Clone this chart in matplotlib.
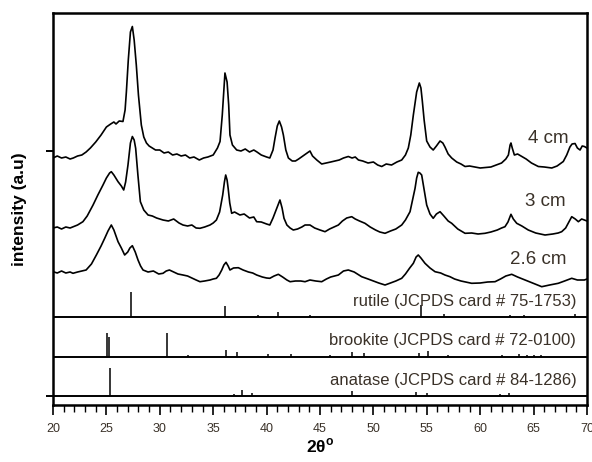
import matplotlib
matplotlib.use("Agg")
import matplotlib.pyplot as plt
from matplotlib.ticker import MultipleLocator

plt.rcParams['font.family'] = ['Liberation Sans', 'DejaVu Sans']

# --- XRD patterns (2theta, intensity a.u.) ---
x_4cm = [20.0, 20.4, 20.8, 21.2, 21.6, 21.9, 22.3, 22.7, 23.1, 23.5, 24.0, 24.5, 25.0, 25.4, 25.7,
         25.9, 26.2, 26.55, 26.75, 26.87, 27.05, 27.25, 27.43, 27.6, 27.8, 28.0, 28.27, 28.5, 28.75,
         29.0, 29.3, 29.6, 30.0, 30.4, 30.8, 31.2, 31.6, 32.0, 32.4, 32.8, 33.2, 33.7, 34.1, 34.5,
         35.0, 35.4, 35.64, 35.85, 35.95, 36.1, 36.3, 36.45, 36.57, 36.8, 37.2, 37.6, 38.0, 38.4,
         38.8, 39.1, 39.5, 40.0, 40.3, 40.6, 40.79, 41.0, 41.19, 41.4, 41.57, 41.8, 42.04, 42.4,
         42.7, 43.0, 43.4, 43.8, 44.06, 44.3, 44.7, 45.16, 45.6, 46.0, 46.4, 46.8, 47.2, 47.65,
         48.0, 48.3, 48.6, 49.0, 49.5, 50.0, 50.4, 50.78, 51.2, 51.7, 52.2, 52.65, 53.0, 53.27,
         53.5, 53.74, 54.05, 54.3, 54.45, 54.58, 54.75, 54.99, 55.3, 55.6, 55.9, 56.24, 56.5, 56.7,
         57.0, 57.33, 57.8, 58.2, 58.58, 59.0, 59.5, 60.0, 60.45, 61.0, 61.5, 62.0, 62.4, 62.64,
         62.8, 62.88, 63.0, 63.2, 63.5, 63.9, 64.3, 64.8, 65.44, 66.0, 66.7, 67.2, 67.78, 68.1,
         68.4, 68.6, 68.88, 69.1, 69.35, 69.55, 69.75, 70.0]
y_4cm = [17, 19, 17, 18, 16, 17, 19, 20, 23, 27, 33, 40, 48, 51, 53,
         51, 54, 53.5, 65, 83, 115, 143, 148.5, 135, 110, 80, 50, 38, 32,
         29, 27, 25, 25, 22, 23, 20, 21, 19, 20, 17, 18, 15, 17, 18,
         20, 27, 33.5, 60, 77, 102, 93, 70, 40, 30, 25, 24, 26, 23,
         25, 23, 20, 18, 17, 25, 37, 49, 54, 48, 40, 25, 17, 14,
         14, 16, 19, 22, 24, 19, 15, 11, 12, 13, 14, 15, 17, 18.5,
         17, 18, 15, 14, 12, 13, 10, 8.5, 11, 10, 13, 15, 20, 27,
         40, 60, 83, 92, 87, 74, 55, 34, 28, 25, 29, 34, 32, 28,
         21, 17, 13, 11, 8.5, 9, 8, 7, 7.5, 8, 10, 12, 16, 20,
         30, 32, 27, 20, 21, 18.5, 16, 12, 8.5, 8, 7, 9, 13.5, 20,
         28, 31, 31.5, 27, 25, 29, 28.5, 27]

x_3cm = [20.0, 20.4, 20.8, 21.2, 21.6, 21.9, 22.3, 22.8, 23.2, 23.75, 24.2, 24.68, 25.0, 25.3,
         25.46, 25.7, 26.09, 26.4, 26.62, 26.8, 27.02, 27.25, 27.43, 27.6, 27.74, 27.95, 28.18,
         28.5, 28.9, 29.3, 29.7, 30.3, 30.8, 31.3, 31.8, 32.17, 32.6, 33.0, 33.4, 33.76, 34.2,
         34.7, 35.0, 35.3, 35.6, 35.89, 36.05, 36.17, 36.3, 36.4, 36.55, 36.73, 37.0, 37.5, 37.9,
         38.4, 38.8, 39.07, 39.5, 40.0, 40.3, 40.6, 40.95, 41.25, 41.45, 41.63, 41.9, 42.2, 42.5,
         42.9, 43.3, 43.6, 44.06, 44.5, 45.0, 45.47, 45.9, 46.3, 46.72, 47.1, 47.5, 47.97, 48.3,
         48.7, 49.21, 49.7, 50.2, 50.6, 51.09, 51.6, 52.1, 52.65, 53.0, 53.43, 53.7, 53.9, 54.05,
         54.2, 54.35, 54.52, 54.75, 54.99, 55.3, 55.6, 55.9, 56.24, 56.6, 57.0, 57.33, 57.9, 58.58,
         59.2, 59.8, 60.45, 61.0, 61.6, 62.0, 62.32, 62.6, 62.88, 63.1, 63.42, 63.9, 64.5, 65.2,
         66.07, 66.8, 67.3, 67.63, 68.0, 68.3, 68.57, 68.9, 69.19, 69.5, 69.75, 70.0]
y_3cm = [12, 13, 11, 13, 12, 13.3, 15, 18.3, 24, 35, 45, 55, 62, 67,
         68.3, 65, 58.3, 54, 50, 58, 75, 97, 103.5, 100, 91.7, 65, 38.3,
         30, 25, 24, 22, 20, 19, 21, 17, 15, 14, 15, 12, 11.7, 13,
         15, 17, 20, 28, 45, 58, 65, 60, 51.7, 37, 26.7, 28, 25, 26,
         22, 23, 18.3, 18, 16, 15, 22, 31.7, 40, 32, 21.7, 15, 12, 10,
         11, 13, 15, 15, 12, 10, 8.3, 11, 13, 15, 19, 22, 23.3, 21,
         19, 16.7, 13, 10, 8, 6.7, 9, 11, 15, 20, 28.3, 42, 51.7, 62,
         67.7, 67, 65, 50, 35, 26, 21.7, 26, 28.3, 24, 19, 16.7, 11, 6.7,
         7, 6, 6.7, 8, 10, 12, 13.3, 18, 25.7, 21, 16.7, 14, 10, 7,
         5, 6, 7, 8.3, 12, 18, 23.3, 21, 18.3, 21, 20, 19]

x_26cm = [20.0, 20.4, 20.8, 21.2, 21.6, 21.87, 22.3, 22.7, 23.1, 23.6, 24.06, 24.5, 24.84, 25.15,
          25.46, 25.7, 26.09, 26.4, 26.71, 27.0, 27.2, 27.43, 27.7, 27.96, 28.2, 28.43, 28.9, 29.4,
          29.9, 30.3, 30.6, 30.9, 31.3, 31.7, 32.17, 32.6, 33.0, 33.4, 33.76, 34.2, 34.7, 35.0,
          35.3, 35.55, 35.8, 36.0, 36.2, 36.4, 36.57, 36.9, 37.35, 37.8, 38.3, 38.7, 39.07, 39.6,
          40.0, 40.3, 40.7, 41.1, 41.5, 41.9, 42.2, 42.7, 43.2, 43.6, 44.06, 44.6, 45.16, 45.6,
          46.0, 46.72, 47.2, 47.65, 48.2, 48.9, 49.5, 50.0, 50.5, 51.09, 51.6, 52.1, 52.65, 53.0,
          53.4, 53.74, 54.0, 54.2, 54.45, 54.83, 55.3, 55.77, 56.3, 56.7, 57.17, 57.6, 58.2, 59.2,
          60.0, 60.7, 61.39, 61.9, 62.4, 62.95, 63.5, 64.2, 64.9, 65.76, 66.5, 67.31, 67.9, 68.57,
          69.1, 69.75, 70.0]
y_26cm = [18.3, 17, 19, 17, 18, 16.7, 18, 19, 20, 26, 35, 44, 51.7, 59,
          65, 60, 48.3, 42, 35, 38, 42, 44.3, 38, 30, 24, 20, 18, 19,
          16, 16.7, 19, 20, 18, 16, 15, 14, 12, 10, 8.3, 9, 10, 11,
          11.7, 15, 20, 25, 27.7, 24, 20, 22, 22.3, 20, 18, 17, 15, 13,
          12, 11.7, 14, 15.7, 13, 10, 8.3, 9, 9, 8.3, 10, 9, 8.3, 11,
          13, 15, 19, 20, 18, 13.3, 11, 9, 7, 5, 7, 9, 11.7, 16,
          22, 26.7, 33, 35, 32, 26.7, 22, 18.3, 17, 15, 13.3, 11, 9, 6.7,
          7, 8, 8.3, 11, 14, 15.7, 13, 10, 7, 3.3, 5, 6.7, 9, 11.7,
          10, 10, 11]

spectra_x = [x_4cm, x_3cm, x_26cm]
spectra_y = [y_4cm, y_3cm, y_26cm]
spectra_offset = [230, 165, 115]
spectra_label = ['4 cm', '3 cm', '2.6 cm']
label_pos = [(68.3, 267), (68.0, 203), (68.1, 145)]

# --- reference stick patterns (2theta, height a.u.) ---
rutile_pos = [27.33, 36.1, 39.2, 41.1, 44.1, 54.45, 56.6, 62.8, 64.1, 68.9]
rutile_h = [25, 11, 2, 5.5, 2, 12, 3, 2, 2, 3]
brookite_pos = [25.06, 25.2, 30.7, 32.6, 36.2, 37.2, 40.1, 42.3, 45.9, 47.97, 49.15,
                54.3, 55.1, 57.0, 62.0, 63.6, 64.4, 65.0, 65.7]
brookite_h = [24, 20, 24, 2, 6.5, 5, 3, 3, 2, 5, 4, 4, 6, 2, 2, 3, 2, 2, 2]
anatase_pos = [25.37, 36.95, 37.7, 38.66, 48.0, 54.0, 55.0, 61.9, 62.7]
anatase_h = [27.5, 2, 6, 3, 5, 4, 3, 2, 3]

ref_pos = [rutile_pos, brookite_pos, anatase_pos]
ref_h = [rutile_h, brookite_h, anatase_h]
ref_base = [87.7, 48.3, 9.3]
ref_label = ['rutile (JCPDS card # 75-1753)', 'brookite (JCPDS card # 72-0100)',
             'anatase (JCPDS card # 84-1286)']
ref_label_y = [103.5, 64, 24]

txt_color = '#3a3128'

fig = plt.figure(figsize=(5.92, 4.62), dpi=100)
ax = fig.add_axes([53 / 592, 57 / 462, 534 / 592, 392 / 462])

for xs, ys, off, lab, (lx, ly) in zip(spectra_x, spectra_y, spectra_offset, spectra_label, label_pos):
    ax.plot(xs, [v + off for v in ys], color='black', lw=1.2)
    ax.text(lx, ly, lab, ha='right', va='center', fontsize=13.5, color=txt_color)

for pos, hs, base, lab, ly in zip(ref_pos, ref_h, ref_base, ref_label, ref_label_y):
    ax.axhline(base, color='black', lw=1.4)
    ax.vlines(pos, base, [base + h for h in hs], color='black', lw=1.1)
    ax.text(69.0, ly, lab, ha='right', va='center', fontsize=12, color=txt_color)

ax.set_xlim(20, 70)
ax.set_ylim(0, 392)
ax.xaxis.set_major_locator(MultipleLocator(5))
ax.xaxis.set_minor_locator(MultipleLocator(1))
ax.set_yticks([9.3, 254])
ax.set_yticklabels([])
ax.tick_params(axis='x', which='major', direction='out', length=7, width=1.2,
               labelsize=9, labelcolor=txt_color, pad=6)
ax.tick_params(axis='x', which='minor', direction='out', length=5, width=1.0)
ax.tick_params(axis='y', direction='out', length=5, width=1.4)
for s in ax.spines.values():
    s.set_linewidth(1.8)

ax.set_xlabel('2θ$^{\\mathregular{o}}$', fontsize=12.5, fontweight='bold', labelpad=1)
ax.set_ylabel('intensity (a.u)', fontsize=12.5, fontweight='bold', labelpad=10)

fig.savefig('out.png', dpi=100)
